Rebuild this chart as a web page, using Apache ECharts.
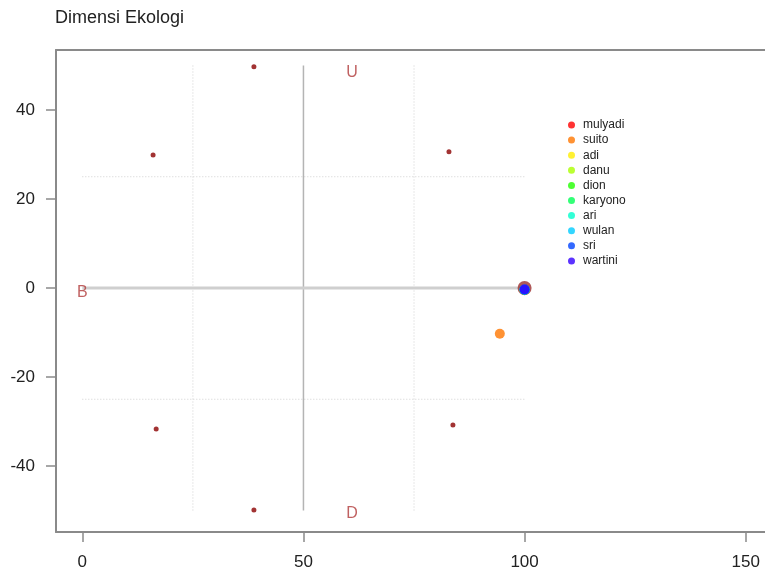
<!DOCTYPE html>
<html>
<head>
<meta charset="utf-8">
<script src="https://cdn.jsdelivr.net/npm/echarts@6/dist/echarts.min.js"></script>
<style>
  html, body { margin: 0; padding: 0; background: #ffffff; }
  #chart { width: 765px; height: 577px; }
</style>
</head>
<body>
<div id="chart"></div>
<script>
// Ordination of the ecological dimension: anchor points, respondents and guide lines
const xTicks = [0, 50, 100, 150];
const yTicks = [-40, -20, 0, 20, 40];

// fixed anchor points of the scale
const anchorPoints = [
  [38.8, 49.7], [16.0, 29.9], [82.9, 30.6],
  [16.7, -31.7], [83.8, -30.8], [38.8, -49.9]
];
const goodAnchor = [[100, 0]];

// compass-style text labels: [x, y, text]
const axisLetters = [
  [61, 48.5, 'U'],
  [61, -50.8, 'D'],
  [0, -1, 'B']
];

// respondents
const names = ['mulyadi', 'suito', 'adi', 'danu', 'dion', 'karyono', 'ari', 'wulan', 'sri', 'wartini'];
const respX = [100, 94.4, 100, 100, 100, 100, 100, 100, 100, 100];
const respY = [-0.5, -10.3, -0.4, -0.4, -0.4, -0.4, -0.4, -0.4, -0.4, -0.3];
const respColors = ['#FF0000', '#FF7700', '#FFEE00', '#AAFF00', '#22FF00',
                    '#00FF55', '#00FFCC', '#00CCFF', '#0044FF', '#3300FF'];

// guide lines: [[x1, y1], [x2, y2]]
const mainHorizontal = [[0, 0], [100, 0]];
const mainVertical = [[50, -50], [50, 50]];
const dottedLines = [
  [[25, -50], [25, 50]],
  [[75, -50], [75, 50]],
  [[0, 25], [100, 25]],
  [[0, -25], [100, -25]]
];

const FONT = 'Liberation Sans, Arial, Helvetica, sans-serif';
const FRAME = '#8a8a8a';

const series = [];

dottedLines.forEach(seg => {
  series.push({
    type: 'line', data: seg, symbol: 'none', silent: true, z: 1,
    lineStyle: { color: '#d0d0d0', width: 1, type: [1, 2] }
  });
});
series.push({
  type: 'line', data: mainVertical, symbol: 'none', silent: true, z: 2,
  lineStyle: { color: '#b4b4b4', width: 1.5 }
});
series.push({
  type: 'line', data: mainHorizontal, symbol: 'none', silent: true, z: 2,
  lineStyle: { color: '#cfcfcf', width: 3 }
});
series.push({
  type: 'scatter', data: anchorPoints, symbol: 'circle', symbolSize: 5, z: 3,
  itemStyle: { color: '#8B0000' }
});
series.push({
  type: 'scatter', data: goodAnchor, symbol: 'circle', symbolSize: 14, z: 3,
  itemStyle: { color: '#9b2f2f' }
});
series.push({
  type: 'scatter', z: 4, symbol: 'circle', symbolSize: 1,
  itemStyle: { color: 'rgba(0,0,0,0)' },
  data: axisLetters.map(d => ({ value: [d[0], d[1]], name: d[2] })),
  label: {
    show: true, position: 'inside', formatter: p => p.name,
    color: '#b03a3a', fontSize: 16, fontFamily: FONT
  }
});
names.forEach((n, i) => {
  series.push({
    name: n, type: 'scatter', z: 5,
    data: [[respX[i], respY[i]]],
    symbol: 'circle', symbolSize: 10,
    itemStyle: { color: respColors[i] }
  });
});

const tickStyle = { color: FRAME, width: 1.5 };
const labelStyle = { fontSize: 17, color: '#222', fontFamily: FONT };

const chart = echarts.init(document.getElementById('chart'), null, { renderer: 'canvas' });
chart.setOption({
  animation: false,
  backgroundColor: '#ffffff',
  title: {
    text: 'Dimensi Ekologi', left: 55, top: 9, padding: 0,
    textStyle: { fontSize: 18, fontWeight: 'normal', color: '#222', fontFamily: FONT }
  },
  legend: {
    data: names, orient: 'vertical', left: 568, top: 119, padding: 0,
    icon: 'circle', itemWidth: 7, itemHeight: 7, itemGap: 3.1,
    textStyle: { fontSize: 12, lineHeight: 12, color: '#222', fontFamily: FONT, padding: [0, 0, 0, 3] }
  },
  grid: { left: 56, top: 50, width: 709, height: 482, show: false },
  xAxis: [{
    type: 'value', min: -5.95, max: 154.36, position: 'bottom',
    axisLine: { show: true, onZero: false, lineStyle: { color: FRAME, width: 2 } },
    splitLine: { show: false },
    axisTick: { show: true, inside: false, length: 10, customValues: xTicks, lineStyle: tickStyle },
    axisLabel: Object.assign({ customValues: xTicks, margin: 22 }, labelStyle)
  }, {
    type: 'value', min: -5.95, max: 154.36, position: 'top',
    axisLine: { show: true, onZero: false, lineStyle: { color: FRAME, width: 2 } },
    splitLine: { show: false }, axisTick: { show: false }, axisLabel: { show: false }
  }],
  yAxis: {
    type: 'value', min: -54.83, max: 53.48,
    axisLine: { show: true, onZero: false, lineStyle: { color: FRAME, width: 2 } },
    splitLine: { show: false },
    axisTick: { show: true, inside: false, length: 10, customValues: yTicks, lineStyle: tickStyle },
    axisLabel: Object.assign({ customValues: yTicks, margin: 21 }, labelStyle)
  },
  series: series
});
</script>
</body>
</html>
